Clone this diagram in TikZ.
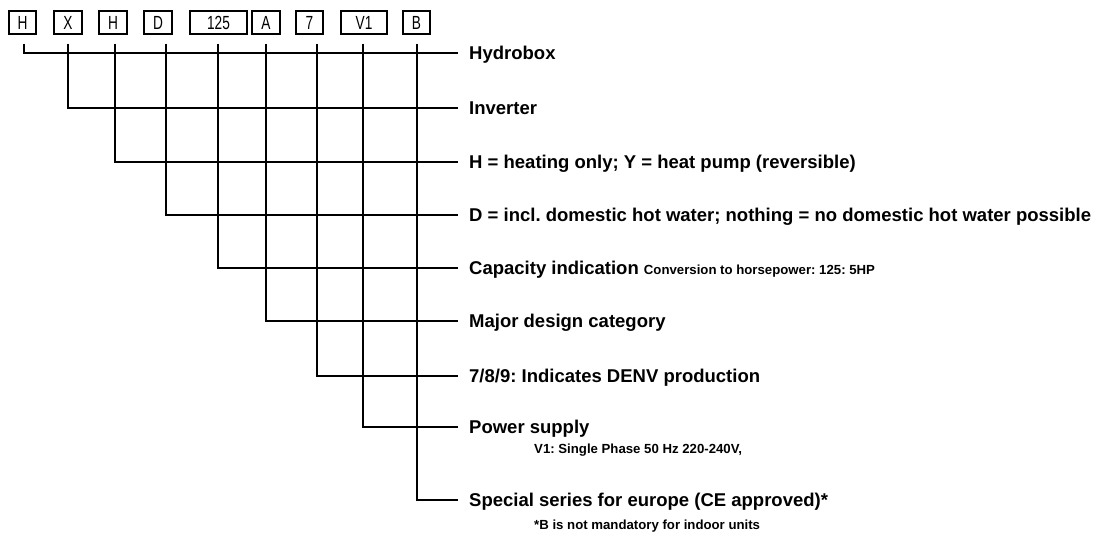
\documentclass[tikz,border=0pt]{standalone}
\usepackage{fontspec}
\setmainfont{Liberation Sans}
\newfontfamily\narrowfont[FakeStretch=0.72]{Liberation Sans}
\frenchspacing
\begin{document}
\begin{tikzpicture}[x=1pt,y=-1pt,
  codebox/.style={draw,line width=1.4pt,inner sep=0pt,minimum height=23pt,
    font=\narrowfont\fontsize{19}{19}\selectfont},
  lbl/.style={anchor=west,inner sep=0pt,text height=13.2pt,text depth=0pt,
    font=\bfseries\fontsize{18.5}{20}\selectfont},
  sublbl/.style={anchor=west,inner sep=0pt,text height=9.4pt,text depth=0pt,
    font=\bfseries\fontsize{13.2}{15}\selectfont},
  conn/.style={line width=2pt}]
\useasboundingbox (0,0) rectangle (1098,536);
% code boxes
\node[codebox,minimum width=27pt] (b1) at (22.5,22.5) {H};
\node[codebox,minimum width=28pt] (b2) at (68,22.5) {X};
\node[codebox,minimum width=28pt] (b3) at (113,22.5) {H};
\node[codebox,minimum width=28pt] (b4) at (158,22.5) {D};
\node[codebox,minimum width=57pt] (b5) at (218.5,22.5) {125};
\node[codebox,minimum width=28pt] (b6) at (266,22.5) {A};
\node[codebox,minimum width=27pt] (b7) at (309.5,22.5) {7};
\node[codebox,minimum width=46pt] (b8) at (364,22.5) {V1};
\node[codebox,minimum width=27pt] (b9) at (416.5,22.5) {B};
% labels
\node[lbl] (l1) at (469,53) {Hydrobox};
\node[lbl] (l2) at (469,108) {Inverter};
\node[lbl] (l3) at (469,162) {H = heating only; Y = heat pump (reversible)};
\node[lbl] (l4) at (469,215) {D = incl. domestic hot water; nothing = no domestic hot water possible};
\node[lbl] (l5) at (469,268) {Capacity indication {\fontsize{13.2}{15}\selectfont Conversion to horsepower: 125: 5HP}};
\node[lbl] (l6) at (469,321) {Major design category};
\node[lbl] (l7) at (469,376) {7/8/9: Indicates DENV production};
\node[lbl] (l8) at (469,427) {Power supply};
\node[sublbl] (s8) at (534,449) {V1: Single Phase 50 Hz 220-240V,};
\node[lbl] (l9) at (469,500) {Special series for europe (CE approved)*};
\node[sublbl] (s9) at (534,525) {*B is not mandatory for indoor units};
% connectors
\draw[conn] ([xshift=1.5pt,yshift=-9pt]b1.south) |- ([xshift=-11pt]l1.west);
\draw[conn] ([xshift=0pt,yshift=-9pt]b2.south) |- ([xshift=-11pt]l2.west);
\draw[conn] ([xshift=2pt,yshift=-9pt]b3.south) |- ([xshift=-11pt]l3.west);
\draw[conn] ([xshift=8pt,yshift=-9pt]b4.south) |- ([xshift=-11pt]l4.west);
\draw[conn] ([xshift=-0.5pt,yshift=-9pt]b5.south) |- ([xshift=-11pt]l5.west);
\draw[conn] ([xshift=0pt,yshift=-9pt]b6.south) |- ([xshift=-11pt]l6.west);
\draw[conn] ([xshift=7.5pt,yshift=-9pt]b7.south) |- ([xshift=-11pt]l7.west);
\draw[conn] ([xshift=-1pt,yshift=-9pt]b8.south) |- ([xshift=-11pt]l8.west);
\draw[conn] ([xshift=0.5pt,yshift=-9pt]b9.south) |- ([xshift=-11pt]l9.west);
\end{tikzpicture}
\end{document}
